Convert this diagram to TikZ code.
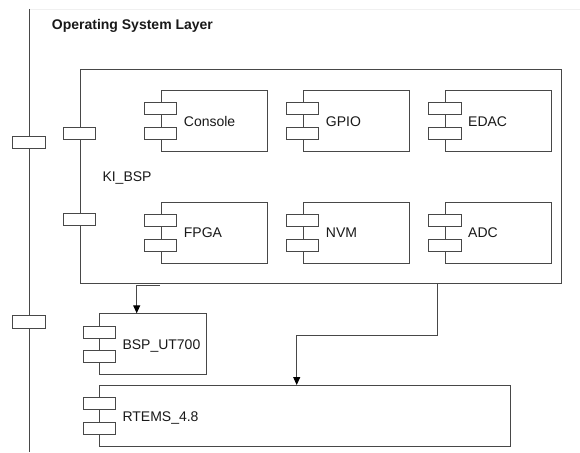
\documentclass[tikz,border=0pt]{standalone}
\usepackage{fontspec}
\setmainfont{Liberation Sans}
\usetikzlibrary{arrows.meta}

\definecolor{edge}{RGB}{72,72,72}
\definecolor{ink}{RGB}{25,25,25}

\tikzset{
  box/.style={draw=edge, line width=1pt, fill=white, inner sep=0pt, anchor=north west},
  port/.style={draw=edge, line width=1pt, fill=white, minimum width=32.5pt,
               minimum height=12pt, inner sep=0pt},
  lbl/.style={text=ink, font=\fontsize{14}{16}\selectfont, anchor=west,
              inner sep=0pt, text height=10pt, text depth=0pt},
  title/.style={lbl, font=\bfseries\fontsize{14}{16}\selectfont},
  link/.style={draw=edge, line width=1pt,
               -{Triangle[width=7pt,length=8pt,color=black]}},
}

% component box with its two interface tabs and a label
% #1 name, #2 left, #3 top, #4 width, #5 height, #6 label
\newcommand\component[6]{%
  \node[box, minimum width=#4pt, minimum height=#5pt] (#1) at (#2,#3) {};
  \node[port] (#1-p1) at ([yshift=12.3pt]#1.west) {};
  \node[port] (#1-p2) at ([yshift=-12.3pt]#1.west) {};
  \node[lbl] (#1-t) at ([xshift=23pt]#1.west) {#6};
}

\begin{document}
\begin{tikzpicture}[x=1pt, y=-1pt]
  \useasboundingbox (0,0) rectangle (580,452);

  % layer frame and lifeline
  \coordinate (frametop) at (29,9);
  \coordinate (frameright) at (580,9);
  \coordinate (axbot) at (29,452);
  \draw[gray!12, line width=0.8pt] (frametop) -- (frameright);
  \draw[edge, line width=1pt] (frametop) -- (axbot);
  \node[port, minimum width=33pt, minimum height=12.5pt] (ax1) at (28.8,142.7) {};
  \node[port, minimum width=33pt, minimum height=12.5pt] (ax2) at (28.8,322) {};

  \node[title] (layer) at (51.7,24.3) {Operating System Layer};

  % board support package container
  \node[box, minimum width=481.5pt, minimum height=213.4pt] (KI) at (79.5,69.3) {};
  \node[port] (KI-p1) at (79.5,133.7) {};
  \node[port] (KI-p2) at (79.5,219) {};
  \node[lbl] (KI-t) at (102.3,176.7) {KI\_BSP};

  \component{Console}{160.7}{90}{106}{61}{Console}
  \component{GPIO}{302.7}{90}{106}{61}{GPIO}
  \component{EDAC}{445}{90}{106}{61}{EDAC}
  \component{FPGA}{160.7}{201.7}{106}{61}{FPGA}
  \component{NVM}{302.7}{201.7}{106}{61}{NVM}
  \component{ADC}{445}{201.7}{106}{61}{ADC}

  % lower layers
  \component{BSP}{99.3}{313.3}{106.4}{61}{BSP\_UT700}
  \component{RTEMS}{99.3}{385}{411}{61}{RTEMS\_4.8}

  % dependencies
  \coordinate (a1s) at (160,285.7);
  \draw[link] (a1s) -| ([xshift=37.4pt]BSP.north west);
  \draw[link] ([xshift=-124.3pt]KI.south east) -- ++(0,51.3)
              -| ([xshift=197.4pt]RTEMS.north west);
\end{tikzpicture}
\end{document}
